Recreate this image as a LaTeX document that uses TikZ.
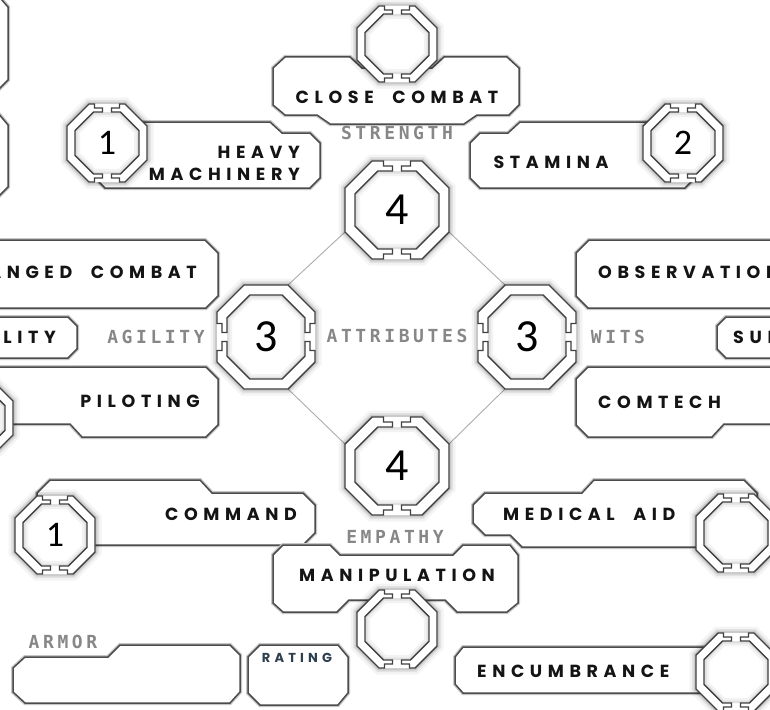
\documentclass[tikz,border=0pt]{standalone}
\usepackage{fontspec}
\newfontfamily\skillfont[LetterSpace=32,WordSpace=2.0]{Poppins}
\newfontfamily\labfont[LetterSpace=20]{DejaVu Sans Mono}
\newfontfamily\numfont{Carlito}
\def\bb{8}\def\bgap{9}\def\btab{8}\def\bstep{4}
\newcommand\octo[3]{({(#1)-(#3)},{-(#2)}) -- ({(#1)},{-(#2)+(#3)}) -- ({(#1)},{(#2)-(#3)}) -- ({(#1)-(#3)},{(#2)}) -- ({-(#1)+(#3)},{(#2)}) -- ({-(#1)},{(#2)-(#3)}) -- ({-(#1)},{-(#2)+(#3)}) -- ({-(#1)+(#3)},{-(#2)}) -- cycle}
\newcommand\badgehalf[3]{%
 \draw[badgeline] ({\bgap/2},{#2-\bstep}) -- ({\bgap/2+\btab},{#2-\bstep}) -- ({\bgap/2+\btab},{#2}) -- ({#1-#3},{#2}) -- ({#1},{#2-#3}) -- ({#1},{-#2+#3}) -- ({#1-#3},{-#2}) -- ({\bgap/2+\btab},{-#2}) -- ({\bgap/2+\btab},{-#2+\bstep}) -- ({\bgap/2},{-#2+\bstep}) -- ({\bgap/2},{-#2+\bb}) -- ({#1-\bb-#3+0.414*\bb},{-#2+\bb}) -- ({#1-\bb},{-#2+\bb+#3-0.414*\bb}) -- ({#1-\bb},{#2-\bb-#3+0.414*\bb}) -- ({#1-\bb-#3+0.414*\bb},{#2-\bb}) -- ({\bgap/2},{#2-\bb}) -- cycle;}
\newcommand\mybadge[6]{%
 \begin{scope}[shift={#2}, rotate=#3]
  \coordinate (#1) at (0,0);
  \draw[line width=13pt, black, opacity=0.045] \octo{#4}{#5}{#6};
  \draw[line width=8pt, black, opacity=0.07] \octo{#4}{#5}{#6};
  \draw[line width=4.5pt, black, opacity=0.11] \octo{#4}{#5}{#6};
  \fill[white] \octo{#4}{#5}{#6};
  \begin{scope}
   \clip \octo{#4-\bb}{#5-\bb}{#6-0.414*\bb};
   \draw[line width=10pt, black, opacity=0.05] \octo{#4-\bb}{#5-\bb}{#6-0.414*\bb};
   \draw[line width=5pt, black, opacity=0.07] \octo{#4-\bb}{#5-\bb}{#6-0.414*\bb};
  \end{scope}
  \badgehalf{#4}{#5}{#6}
  \begin{scope}[xscale=-1]\badgehalf{#4}{#5}{#6}\end{scope}
 \end{scope}}
\tikzset{
 badgeline/.style={fill=white, draw=black!75, line width=1.4pt, line join=miter},
 boxst/.style={fill=white, draw=black!70, line width=1.5pt, line join=miter, preaction={draw=black!22, line width=4pt}},
 skill/.style={font=\skillfont\bfseries\fontsize{17.5}{22}\selectfont, text=black!92, inner sep=0pt},
 lab/.style={font=\labfont\bfseries\fontsize{18}{18}\selectfont, text=black!47, inner sep=0pt},
 num/.style={font=\numfont\fontsize{46}{46}\selectfont, inner sep=0pt},
 snum/.style={font=\numfont\fontsize{36}{36}\selectfont, inner sep=0pt},
 diag/.style={draw=black!32, line width=0.9pt}
}
\begin{document}
\begin{tikzpicture}[x=1pt,y=-1pt]
\useasboundingbox (0,0) rectangle (770,709);
\fill[white] (0,0) rectangle (770,709);
% diamond connectors
\coordinate (tl) at (345,232); \coordinate (tr) at (449,232);
\coordinate (bl) at (345,444); \coordinate (br) at (449,444);
\coordinate (lt) at (288,285); \coordinate (lb) at (288,389);
\coordinate (rt) at (505,285); \coordinate (rb) at (505,389);
\draw[diag] (tl) -- (lt); \draw[diag] (tr) -- (rt);
\draw[diag] (lb) -- (bl); \draw[diag] (rb) -- (br);
% boxes
\draw[boxst] (-20,-1) -- (1,-1) -- (8,7) -- (8,80) -- (-2,90) -- (-20,90) -- cycle;
\draw[boxst] (-20,113) -- (-2,113) -- (8,125) -- (8,187) -- (-3,198) -- (-20,198) -- cycle;
\draw[boxst] (273,105) -- (273,68) -- (285,57) -- (350,57) -- (362,68) -- (432,68) -- (444,57) -- (507,57) -- (519,68) -- (519,105) -- (509,115) -- (477,115) -- (464,124) -- (330,124) -- (317,115) -- (285,115) -- cycle;
\draw[boxst] (95,178) -- (105,188) -- (310,188) -- (320,178) -- (320,143) -- (310,133) -- (282,133) -- (270,122) -- (100,122) -- cycle;
\draw[boxst] (695,178) -- (685,188) -- (480,188) -- (470,178) -- (470,143) -- (480,133) -- (508,133) -- (520,122) -- (690,122) -- cycle;
\draw[boxst] (-10,240) -- (205,240) -- (218,253) -- (218,296) -- (206,308) -- (-10,308) -- cycle;
\draw[boxst] (804,240) -- (589,240) -- (576,253) -- (576,296) -- (588,308) -- (804,308) -- cycle;
\draw[boxst] (-10,317) -- (68,317) -- (77,326) -- (77,349) -- (68,358) -- (-10,358) -- cycle;
\draw[boxst] (804,317) -- (726,317) -- (717,326) -- (717,349) -- (726,358) -- (804,358) -- cycle;
\draw[boxst] (-20,367) -- (206,367) -- (218,379) -- (218,425) -- (206,437) -- (82,437) -- (70,424) -- (-20,424) -- cycle;
\draw[boxst] (814,367) -- (588,367) -- (576,379) -- (576,425) -- (588,437) -- (712,437) -- (724,424) -- (814,424) -- cycle;
\draw[boxst] (37,505) -- (37,493) -- (50,480) -- (200,480) -- (212,493) -- (303,493) -- (315,505) -- (315,533) -- (303,545) -- (80,545) -- cycle;
\draw[boxst] (757,505) -- (757,493) -- (744,480) -- (594,480) -- (582,493) -- (485,493) -- (473,505) -- (473,523) -- (485,535) -- (510,535) -- (522,547) -- (714,547) -- cycle;
\draw[boxst] (273,603) -- (273,555) -- (283,545) -- (330,545) -- (340,555) -- (453,555) -- (463,545) -- (510,545) -- (518,555) -- (518,603) -- (507,612) -- (457,612) -- (445,600) -- (349,600) -- (337,612) -- (283,612) -- cycle;
\draw[boxst] (455,684) -- (455,657) -- (463,647) -- (735,647) -- (735,693) -- (463,693) -- cycle;
\draw[boxst] (13,668) -- (25,657) -- (108,657) -- (120,645) -- (230,645) -- (240,655) -- (240,692) -- (230,703) -- (25,703) -- (13,692) -- cycle;
\draw[boxst] (248,657) -- (260,645) -- (338,645) -- (348,657) -- (348,693) -- (338,705) -- (260,705) -- (248,693) -- cycle;
% skill badges
\def\bb{8}\def\bgap{9}\def\btab{8}\def\bstep{4}
\mybadge{bcc}{(397,44)}{0}{40}{38}{22}
\mybadge{bhm}{(107,143)}{0}{40}{39}{22}
\mybadge{bst}{(683,143)}{0}{40}{39}{22}
\mybadge{bpi}{(-27,418)}{0}{40}{39}{22}
\mybadge{bco}{(55,535)}{0}{40}{39}{22}
\mybadge{bma}{(736,533)}{0}{40}{39}{22}
\mybadge{bmn}{(397,629)}{0}{40}{39}{22}
\mybadge{ben}{(736,672)}{0}{40}{39}{22}
% attribute badges
\def\bb{10}\def\bgap{9}\def\btab{9}\def\bstep{5}
\mybadge{bstr}{(397,210)}{0}{52}{49}{27}
\mybadge{bemp}{(397,466)}{0}{52}{49}{27}
\mybadge{bagi}{(266,337)}{90}{52}{49}{27}
\mybadge{bwit}{(527,337)}{90}{52}{49}{27}
% numbers
\node[snum] (n1) at (bhm) {1};
\node[snum] (n2) at (bst) {2};
\node[snum] (n3) at (bco) {1};
\node[num] (n4) at (bstr) {4};
\node[num] (n5) at (bemp) {4};
\node[num] (n6) at (bagi) {3};
\node[num] (n7) at (bwit) {3};
% labels
\node[lab] (lstr) at (397,133) {STRENGTH};
\node[lab] (lagi) at (156,337) {AGILITY};
\node[lab] (latt) at (397,336) {ATTRIBUTES};
\node[lab] (lwit) at (618,337) {WITS};
\node[lab] (lemp) at (395,537) {EMPATHY};
\node[lab] (larm) at (63,642) {ARMOR};
% skill names
\node[skill] (tcc) at (397,97) {CLOSE COMBAT};
\node[skill, anchor=east, align=right] (thm) at (300,163) {HEAVY\\MACHINERY};
\node[skill] (tst) at (551,162) {STAMINA};
\node[skill, anchor=east] (trc) at (197,272) {RANGED COMBAT};
\node[skill, anchor=east] (tmo) at (56,337) {MOBILITY};
\node[skill, anchor=east] (tpi) at (200,401) {PILOTING};
\node[skill, anchor=west] (tob) at (598,272) {OBSERVATION};
\node[skill, anchor=west] (tsu) at (733,337) {SURVIVAL};
\node[skill, anchor=west] (tct) at (598,402) {COMTECH};
\node[skill, anchor=east] (tcm) at (297,514) {COMMAND};
\node[skill, anchor=west] (tmd) at (503,514) {MEDICAL AID};
\node[skill] (tmn) at (397,575) {MANIPULATION};
\node[skill, anchor=west] (ten) at (477,671) {ENCUMBRANCE};
\node[skill, font=\skillfont\bfseries\fontsize{13}{13}\selectfont, text={rgb,255:red,45;green,62;blue,78}] (trt) at (297,658) {RATING};
\end{tikzpicture}
\end{document}
